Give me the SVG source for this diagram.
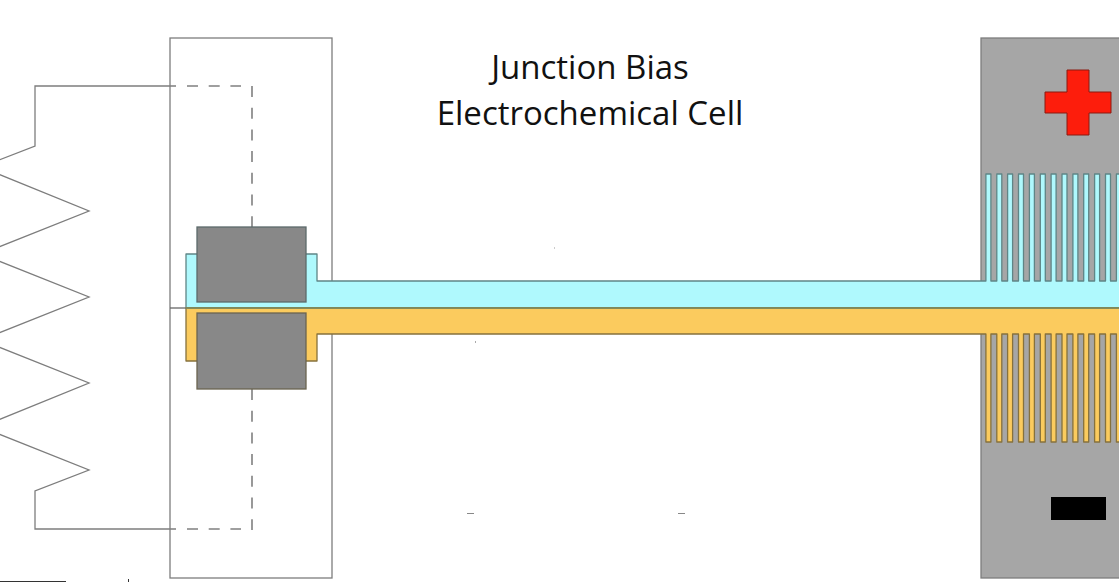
<svg xmlns="http://www.w3.org/2000/svg" width="1119" height="582" viewBox="0 0 1119 582">
<style>
.wire{fill:none;stroke:#7d7d7d;stroke-width:1.3}
.dash{fill:none;stroke:#808080;stroke-width:1.3;stroke-dasharray:11 10.7}
.dashv{fill:none;stroke:#555;stroke-width:1.2;stroke-dasharray:11 10.7}
.core{fill:#888;stroke-width:1.3}
.cy{fill:#aff9fd;stroke:#5f8586;stroke-width:1.3}
.or{fill:#fbcb5e;stroke:#86713c;stroke-width:1.3}
.t{font-family:"Open Sans",sans-serif;font-size:33px;fill:#111;text-anchor:middle}
</style>
<rect width="1119" height="582" fill="#fff"/>
<g id="holder"><rect x="170" y="38" width="162" height="540" fill="#fff" stroke="#7d7d7d" stroke-width="1.3"/></g>
<g id="connectors">
<path class="wire" d="M176 86H35V146L-19 167L89 211L-19 254L89 297L-19 340L89 383L-19 427L89 470L35 491V529H176"/>
<path class="dash" d="M187 86H241"/>
<path class="dashv" d="M252 86V227"/>
<path class="dashv" d="M252 389V530"/>
<path class="dash" d="M187 529H241"/>
<path class="wire" d="M170 308H186" style="stroke:#666"/>
</g>
<g id="plate">
<rect x="981" y="38" width="145" height="540" fill="#a6a6a6" stroke="#7d7d7d" stroke-width="1.3"/>
</g>
<g id="cyan-electrode">
<path class="cy" d="M186 308V254H317V281H985.900V174H990.900V281H996.800V174H1001.800V281H1007.600V174H1012.600V281H1018.500V174H1023.500V281H1029.400V174H1034.400V281H1040.300V174H1045.300V281H1051.100V174H1056.100V281H1062V174H1067V281H1072.900V174H1077.900V281H1083.700V174H1088.700V281H1094.600V174H1099.600V281H1105.500V174H1110.500V281H1116.400V174H1121.400V308Z" stroke-linejoin="round"/>
</g>
<g id="orange-electrode">
<path class="or" d="M186 308V361H317V334H985.900V442H990.900V334H996.800V442H1001.800V334H1007.600V442H1012.600V334H1018.500V442H1023.500V334H1029.400V442H1034.400V334H1040.300V442H1045.300V334H1051.100V442H1056.100V334H1062V442H1067V334H1072.900V442H1077.900V334H1083.700V442H1088.700V334H1094.600V442H1099.600V334H1105.500V442H1110.500V334H1116.400V442H1121.400V308Z" stroke-linejoin="round"/>
<path d="M186 308H1119" fill="none" stroke="#7e8c5e" stroke-width="1.3"/>
</g>
<g id="core-top"><rect class="core" stroke="#5c6a6b" x="197" y="227" width="109" height="75"/></g>
<g id="core-bottom"><rect class="core" stroke="#6b6450" x="197" y="313" width="109" height="76"/></g>
<g id="plus"><path d="M1067 70H1089V92H1111V113H1089V135H1067V113H1045V92H1067Z" fill="#fd1d0c" stroke="#8a1a10" stroke-width="1"/></g>
<g id="minus"><rect x="1051" y="497" width="55" height="23" fill="#000"/></g>
<g id="title">
<text class="t" x="590" y="79">Junction Bias</text>
<text class="t" x="590" y="124.500">Electrochemical Cell</text>
</g>
<g id="specks" fill="#888">
<rect x="467" y="513" width="7" height="1"/>
<rect x="678" y="513" width="7" height="1"/>
<rect x="475" y="341" width="1" height="2" fill="#aaa"/>
<rect x="554" y="247" width="1" height="2" fill="#ccc"/>
<rect x="0" y="581" width="66" height="1" fill="#333"/>
<rect x="128" y="579" width="1" height="3" fill="#333"/>
</g>
</svg>
